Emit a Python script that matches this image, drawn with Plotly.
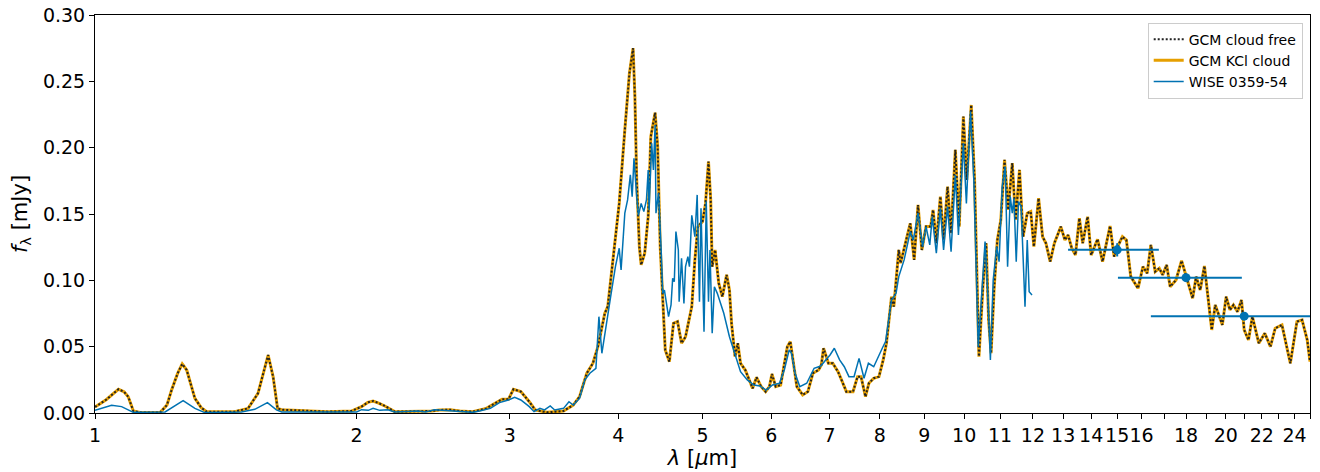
import plotly.graph_objects as go

# GCM model spectrum, wavelength in micron, flux in mJy
model_wl = [1.0, 1.03, 1.064, 1.08, 1.092, 1.107, 1.13, 1.188, 1.21, 1.225, 1.245, 1.26, 1.275, 1.29,
            1.303, 1.325, 1.344, 1.448, 1.50, 1.54, 1.565, 1.582, 1.603, 1.622, 1.639, 1.70, 1.758,
            1.853, 1.973, 2.026, 2.06, 2.089, 2.12, 2.155, 2.212, 2.353, 2.44, 2.49, 2.56, 2.63, 2.72,
            2.82, 2.94, 2.99, 3.03, 3.09, 3.16, 3.21, 3.31, 3.46, 3.55, 3.61, 3.68, 3.74, 3.79, 3.86,
            3.89, 3.94, 4.01, 4.07, 4.12, 4.16, 4.18, 4.20, 4.23, 4.25, 4.29, 4.33, 4.36, 4.41, 4.44,
            4.47, 4.50, 4.53, 4.58, 4.63, 4.68, 4.73, 4.78, 4.86, 4.90, 4.94, 5.00, 5.04, 5.08, 5.11,
            5.13, 5.17, 5.22, 5.27, 5.33, 5.37, 5.40, 5.45, 5.49, 5.53, 5.60, 5.66, 5.71, 5.77, 5.84,
            5.91, 5.97, 6.01, 6.07, 6.15, 6.20, 6.26, 6.31, 6.36, 6.42, 6.52, 6.61, 6.70, 6.80, 6.85,
            6.89, 6.93, 6.98, 7.06, 7.16, 7.24, 7.32, 7.45, 7.54, 7.61, 7.65, 7.70, 7.77, 7.87, 7.98,
            8.07, 8.14, 8.21, 8.25, 8.30, 8.35, 8.41, 8.45, 8.56, 8.67, 8.76, 8.85, 8.94, 9.04, 9.15,
            9.21, 9.29, 9.39, 9.47, 9.57, 9.66, 9.77, 9.87, 9.98, 10.07, 10.19, 10.28, 10.34, 10.40,
            10.51, 10.60, 10.67, 10.74, 10.83, 10.92, 11.02, 11.13, 11.24, 11.36, 11.46, 11.58, 11.69,
            11.82, 11.93, 12.03, 12.18, 12.31, 12.42, 12.56, 12.70, 12.92, 13.06, 13.17, 13.30, 13.43,
            13.57, 13.69, 13.87, 14.0, 14.24, 14.43, 14.72, 14.88, 15.05, 15.21, 15.37, 15.55, 15.85,
            16.06, 16.24, 16.40, 16.59, 16.77, 16.92, 17.10, 17.26, 17.53, 17.79, 17.99, 18.32, 18.49,
            18.69, 18.90, 19.07, 19.27, 19.45, 19.82, 20.02, 20.22, 20.41, 20.63, 20.85, 21.0, 21.24,
            21.46, 21.83, 22.18, 22.51, 22.80, 23.21, 23.73, 24.15, 24.48, 24.82, 25.0]
gcm_cloud_free = [0.0045, 0.010, 0.0179, 0.016, 0.0123, 0.0015, 0.0003, 0.0003, 0.006, 0.0173, 0.030,
                  0.037, 0.0324, 0.020, 0.011, 0.004, 0.001, 0.001, 0.0035, 0.0148, 0.032, 0.0437,
                  0.0274, 0.0035, 0.0025, 0.002, 0.0015, 0.001, 0.0015, 0.0048, 0.008, 0.009, 0.0075,
                  0.0053, 0.001, 0.001, 0.0015, 0.0023, 0.0025, 0.0015, 0.001, 0.0035, 0.0103, 0.0103,
                  0.0179, 0.0161, 0.0085, 0.0023, 0.0005, 0.0015, 0.006, 0.0123, 0.030, 0.0375, 0.050,
                  0.0752, 0.0802, 0.1129, 0.158, 0.2134, 0.2561, 0.275, 0.2385, 0.1757, 0.1254, 0.1116,
                  0.1204, 0.148, 0.2083, 0.2264, 0.2008, 0.1254, 0.0852, 0.0475, 0.0387, 0.0676, 0.0689,
                  0.0526, 0.0575, 0.0802, 0.1154, 0.1405, 0.1443, 0.158, 0.1895, 0.1606, 0.1103, 0.1229,
                  0.0978, 0.0877, 0.1041, 0.0927, 0.0676, 0.0425, 0.0526, 0.0375, 0.0324, 0.0249, 0.0186,
                  0.0269, 0.0199, 0.0161, 0.0199, 0.0294, 0.0199, 0.0211, 0.0349, 0.050, 0.0538, 0.0375,
                  0.0199, 0.0136, 0.0161, 0.030, 0.0324, 0.0362, 0.0488, 0.0437, 0.0375, 0.0375, 0.0311,
                  0.0236, 0.0161, 0.0161, 0.0274, 0.0274, 0.0199, 0.0123, 0.0224, 0.0262, 0.0274, 0.040,
                  0.0526, 0.0752, 0.0877, 0.0802, 0.0978, 0.1229, 0.1129, 0.128, 0.143, 0.1154, 0.1568,
                  0.1229, 0.1405, 0.1405, 0.1531, 0.128, 0.1631, 0.1304, 0.1706, 0.1355, 0.1983, 0.1405,
                  0.2234, 0.1757, 0.2322, 0.1757, 0.1003, 0.0425, 0.0952, 0.128, 0.0701, 0.045, 0.0952,
                  0.1304, 0.1455, 0.1908, 0.1531, 0.1883, 0.1455, 0.1832, 0.1329, 0.1506, 0.1518, 0.1254,
                  0.1619, 0.1329, 0.128, 0.1141, 0.128, 0.1405, 0.1304, 0.1342, 0.1242, 0.1191, 0.1468,
                  0.128, 0.148, 0.119, 0.131, 0.1141, 0.141, 0.1179, 0.1267, 0.1329, 0.1304, 0.1028, 0.094,
                  0.1103, 0.1053, 0.1267, 0.1066, 0.1091, 0.1041, 0.1116, 0.0952, 0.1003, 0.1148, 0.1041,
                  0.0865, 0.1028, 0.0927, 0.1108, 0.0877, 0.0626, 0.0814, 0.0664, 0.0877, 0.0777, 0.0814,
                  0.0764, 0.0852, 0.0626, 0.055, 0.0726, 0.0526, 0.0601, 0.050, 0.0639, 0.0664, 0.0375,
                  0.0689, 0.0701, 0.055, 0.0387]
# the KCl cloud model sits on top of the cloud free one
gcm_kcl_cloud = list(gcm_cloud_free)

# observed spectrum of WISE 0359-54
obs_wl = [1.0, 1.045, 1.073, 1.107, 1.204, 1.263, 1.303, 1.338, 1.474, 1.527, 1.579, 1.617, 1.64, 2.0,
          2.026, 2.063, 2.089, 2.126, 2.173, 2.212, 2.353, 2.40, 2.459, 2.49, 2.56, 2.63, 2.72, 2.77,
          2.85, 2.92, 2.99, 3.04, 3.09, 3.16, 3.20, 3.25, 3.29, 3.34, 3.38, 3.46, 3.51, 3.55, 3.61,
          3.66, 3.71, 3.77, 3.80, 3.83, 3.87, 3.92, 3.97, 4.01, 4.03, 4.07, 4.10, 4.13, 4.15, 4.17,
          4.20, 4.22, 4.25, 4.28, 4.31, 4.33, 4.34, 4.37, 4.39, 4.41, 4.42, 4.45, 4.48, 4.50, 4.52,
          4.55, 4.57, 4.60, 4.62, 4.64, 4.66, 4.69, 4.70, 4.73, 4.76, 4.78, 4.81, 4.83, 4.86, 4.90,
          4.93, 4.96, 4.98, 5.02, 5.05, 5.08, 5.10, 5.13, 5.16, 5.20, 5.29, 5.37, 5.46, 5.53, 5.63,
          5.73, 5.82, 5.92, 6.02, 6.13, 6.21, 6.29, 6.33, 6.39, 6.47, 6.59, 6.72, 6.84, 6.93, 7.01,
          7.09, 7.19, 7.28, 7.37, 7.47, 7.57, 7.67, 7.76, 7.87, 7.96, 8.05, 8.12, 8.18, 8.25, 8.35,
          8.41, 8.53, 8.58, 8.67, 8.74, 8.85, 8.96, 9.04, 9.13, 9.19, 9.29, 9.39, 9.47, 9.57, 9.66,
          9.77, 9.85, 9.98, 10.06, 10.17, 10.26, 10.33, 10.38, 10.49, 10.57, 10.65, 10.72, 10.80,
          10.90, 10.97, 11.06, 11.15, 11.22, 11.30, 11.36, 11.41, 11.48, 11.55, 11.63, 11.75, 11.82,
          11.88, 11.97]
obs_flux = [0.002, 0.0058, 0.0048, 0.0005, 0.0008, 0.0093, 0.0035, 0.0003, 0.0007, 0.0028, 0.0078,
            0.0023, 0.0008, 0.0008, 0.0025, 0.002, 0.0035, 0.002, 0.0025, 0.0008, 0.0015, 0.0008,
            0.0025, 0.0023, 0.0015, 0.0015, 0.0005, 0.0015, 0.0035, 0.0078, 0.0098, 0.0118, 0.0098,
            0.0048, 0.001, 0.0035, 0.0023, 0.0053, 0.0023, 0.0035, 0.0085, 0.006, 0.011, 0.0249, 0.030,
            0.0337, 0.0726, 0.045, 0.0651, 0.0877, 0.1103, 0.1242, 0.1078, 0.1506, 0.1606, 0.1795,
            0.163, 0.192, 0.163, 0.149, 0.158, 0.1518, 0.1606, 0.1832, 0.153, 0.2033, 0.1832, 0.2171,
            0.1506, 0.1657, 0.1254, 0.0902, 0.0927, 0.0802, 0.0726, 0.0814, 0.1015, 0.099, 0.1367,
            0.1229, 0.0839, 0.1166, 0.0826, 0.1103, 0.1179, 0.1103, 0.149, 0.1329, 0.1644, 0.0839,
            0.1543, 0.0613, 0.1594, 0.0839, 0.1229, 0.0601, 0.0952, 0.0902, 0.0752, 0.0575, 0.0425,
            0.0311, 0.0249, 0.0211, 0.0204, 0.0173, 0.0211, 0.0224, 0.0324, 0.0475, 0.045, 0.030,
            0.0199, 0.0224, 0.0337, 0.0354, 0.040, 0.0437, 0.0488, 0.040, 0.0349, 0.0274, 0.0274,
            0.0412, 0.0262, 0.0375, 0.0349, 0.0425, 0.0488, 0.0538, 0.0701, 0.0852, 0.0902, 0.1028,
            0.1154, 0.1229, 0.1367, 0.1304, 0.1506, 0.1254, 0.1405, 0.1267, 0.148, 0.1204, 0.1543,
            0.1229, 0.1556, 0.1216, 0.1795, 0.1342, 0.2033, 0.158, 0.2272, 0.1757, 0.1053, 0.050,
            0.095, 0.1292, 0.0877, 0.040, 0.1003, 0.1254, 0.1141, 0.1706, 0.1857, 0.1103, 0.1631,
            0.1506, 0.1619, 0.1141, 0.1594, 0.1556, 0.0802, 0.1304, 0.0914, 0.089]

# photometric points with filter widths
phot_wl = [15.0, 18.0, 21.0]
phot_flux = [0.123, 0.102, 0.073]
phot_wl_minus = [1.83, 2.97, 4.6]
phot_wl_plus = [1.75, 2.87, 4.4]
phot_flux_err = [0.005, 0.003, 0.003]

tick_vals = list(range(1, 26))
tick_text = [str(v) if (v <= 16 or v % 2 == 0) and v != 25 else "" for v in tick_vals]

ORANGE = "#E69F00"
BLUE = "#0072B2"

fig = go.Figure()
fig.add_trace(go.Scatter(x=model_wl, y=gcm_kcl_cloud, mode="lines", name="GCM KCl cloud",
                         line=dict(color=ORANGE, width=3), legendrank=2))
fig.add_trace(go.Scatter(x=model_wl, y=gcm_cloud_free, mode="lines", name="GCM cloud free",
                         line=dict(color="#222222", width=2, dash="2px,2px"), legendrank=1))
fig.add_trace(go.Scatter(x=obs_wl, y=obs_flux, mode="lines", name="WISE 0359-54",
                         line=dict(color=BLUE, width=1.5), legendrank=3))
fig.add_trace(go.Scatter(x=phot_wl, y=phot_flux, mode="markers", showlegend=False,
                         marker=dict(color=BLUE, size=9),
                         error_x=dict(type="data", symmetric=False, array=phot_wl_plus,
                                      arrayminus=phot_wl_minus, color=BLUE, thickness=2, width=0),
                         error_y=dict(type="data", array=phot_flux_err, color=BLUE,
                                      thickness=2, width=0)))

axis_common = dict(showline=True, linecolor="black", linewidth=1, mirror=True,
                   ticks="outside", ticklen=5, tickwidth=1, tickcolor="black",
                   showgrid=False, zeroline=False, automargin=False, tickangle=0,
                   tickfont=dict(family="DejaVu Sans", size=19, color="black"))

fig.update_xaxes(type="log", range=[0, 1.39794], tickvals=tick_vals, ticktext=tick_text,
                 title=dict(text="<i>λ</i> [<i>μ</i>m]", standoff=2,
                            font=dict(family="DejaVu Sans", size=21, color="black")),
                 **axis_common)
fig.update_yaxes(range=[0, 0.30], dtick=0.05, tickformat=".2f",
                 title=dict(text="<i>f</i><sub>λ</sub> [mJy]", standoff=10,
                            font=dict(family="DejaVu Sans", size=21, color="black")),
                 **axis_common)

# page body adds 8px on top/left, so the figure is 8px smaller
fig.update_layout(
    width=1312, height=464,
    margin=dict(l=87, r=10, t=7, b=59),
    plot_bgcolor="white", paper_bgcolor="white",
    font=dict(family="DejaVu Sans", color="black"),
    legend=dict(x=0.994, y=0.981, xanchor="right", yanchor="top",
                bgcolor="rgba(255,255,255,0.8)", bordercolor="#cccccc", borderwidth=1,
                font=dict(family="DejaVu Sans", size=14, color="black")),
)

fig.write_html("out.html")
